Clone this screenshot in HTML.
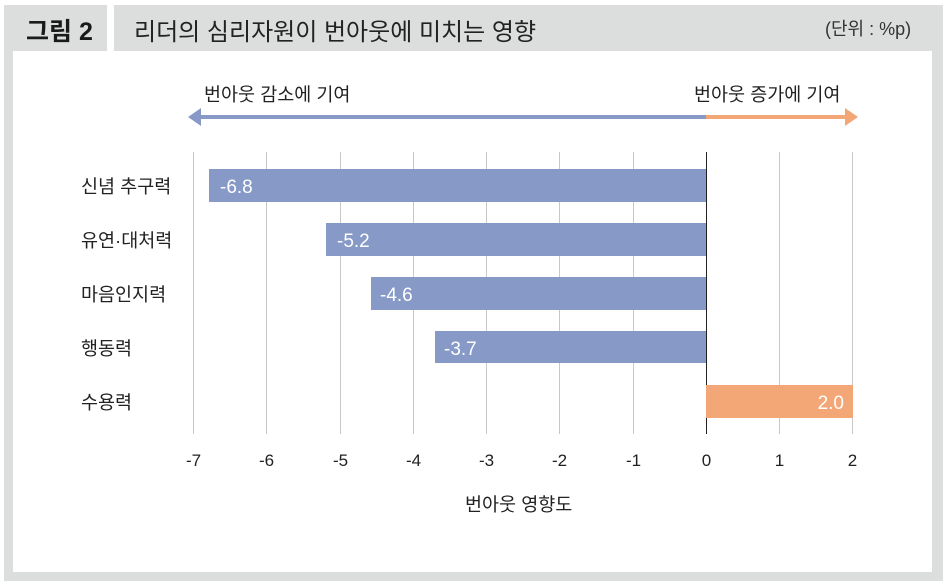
<!DOCTYPE html>
<html><head><meta charset="utf-8">
<style>
body{margin:0;background:#fff;}
.wrap{position:relative;width:947px;height:588px;overflow:hidden;font-family:"Liberation Sans","Noto Sans CJK KR",sans-serif;color:#222;}
.t{position:absolute;white-space:nowrap;}
</style></head><body>
<div class="wrap">
<div style="position:absolute;left:4px;top:5px;width:939px;height:576px;background:#dcdddd;"></div>
<div style="position:absolute;left:13px;top:51px;width:919px;height:521px;background:#fff;"></div>
<div style="position:absolute;left:107px;top:5px;width:7px;height:46px;background:#fff;"></div>
<div class="t" style="left:26px;top:12px;font-size:25px;font-weight:bold;color:#1a1a1a;">그림 2</div>
<div class="t" style="left:134px;top:12px;font-size:24px;color:#222;">리더의 심리자원이 번아웃에 미치는 영향</div>
<div class="t" style="left:825px;top:15px;font-size:18px;color:#333;">(단위 : %p)</div>
<svg width="947" height="588" style="position:absolute;left:0;top:0;" xmlns="http://www.w3.org/2000/svg">
<g stroke="#c8c8c8" stroke-width="1">
<line x1="193.5" y1="152" x2="193.5" y2="434"/>
<line x1="266.5" y1="152" x2="266.5" y2="434"/>
<line x1="340.5" y1="152" x2="340.5" y2="434"/>
<line x1="413.5" y1="152" x2="413.5" y2="434"/>
<line x1="486.5" y1="152" x2="486.5" y2="434"/>
<line x1="559.5" y1="152" x2="559.5" y2="434"/>
<line x1="633.5" y1="152" x2="633.5" y2="434"/>
<line x1="779.5" y1="152" x2="779.5" y2="434"/>
<line x1="852.5" y1="152" x2="852.5" y2="434"/>
</g>
<line x1="706.5" y1="152" x2="706.5" y2="434" stroke="#222" stroke-width="1"/>
<rect x="200" y="115" width="506" height="4" fill="#8799c7"/>
<polygon points="188,117 201,108 201,126" fill="#8799c7"/>
<rect x="706" y="115" width="140" height="4" fill="#f3a676"/>
<polygon points="858,117 845,108 845,126" fill="#f3a676"/>
<rect x="209" y="169" width="497" height="33" fill="#8799c7"/>
<rect x="326" y="223" width="380" height="33" fill="#8799c7"/>
<rect x="371" y="277" width="335" height="33" fill="#8799c7"/>
<rect x="435" y="331" width="271" height="32" fill="#8799c7"/>
<rect x="706" y="385" width="147" height="33" fill="#f3a676"/>
<g font-family="Liberation Sans, sans-serif" font-size="19" fill="#fff">
<text x="220" y="193">-6.8</text>
<text x="337" y="247">-5.2</text>
<text x="380" y="301">-4.6</text>
<text x="444" y="355">-3.7</text>
<text x="844" y="409" text-anchor="end">2.0</text>
</g>
<g font-family="Liberation Sans, sans-serif" font-size="17" fill="#222" text-anchor="middle">
<text x="193.5" y="466">-7</text>
<text x="266.5" y="466">-6</text>
<text x="340.5" y="466">-5</text>
<text x="413.5" y="466">-4</text>
<text x="486.5" y="466">-3</text>
<text x="559.5" y="466">-2</text>
<text x="633.5" y="466">-1</text>
<text x="706.5" y="466">0</text>
<text x="779.5" y="466">1</text>
<text x="852.5" y="466">2</text>
</g>
</svg>
<div class="t" style="left:81px;top:173px;font-size:18.5px;">신념 추구력</div>
<div class="t" style="left:81px;top:227px;font-size:18.5px;">유연·대처력</div>
<div class="t" style="left:81px;top:281px;font-size:18.5px;">마음인지력</div>
<div class="t" style="left:81px;top:335px;font-size:18.5px;">행동력</div>
<div class="t" style="left:81px;top:389px;font-size:18.5px;">수용력</div>
<div class="t" style="left:204px;top:81px;font-size:18.5px;">번아웃 감소에 기여</div>
<div class="t" style="left:694px;top:81px;font-size:18.5px;">번아웃 증가에 기여</div>
<div class="t" style="left:465px;top:491px;font-size:18.5px;">번아웃 영향도</div>
</div>
</body></html>
